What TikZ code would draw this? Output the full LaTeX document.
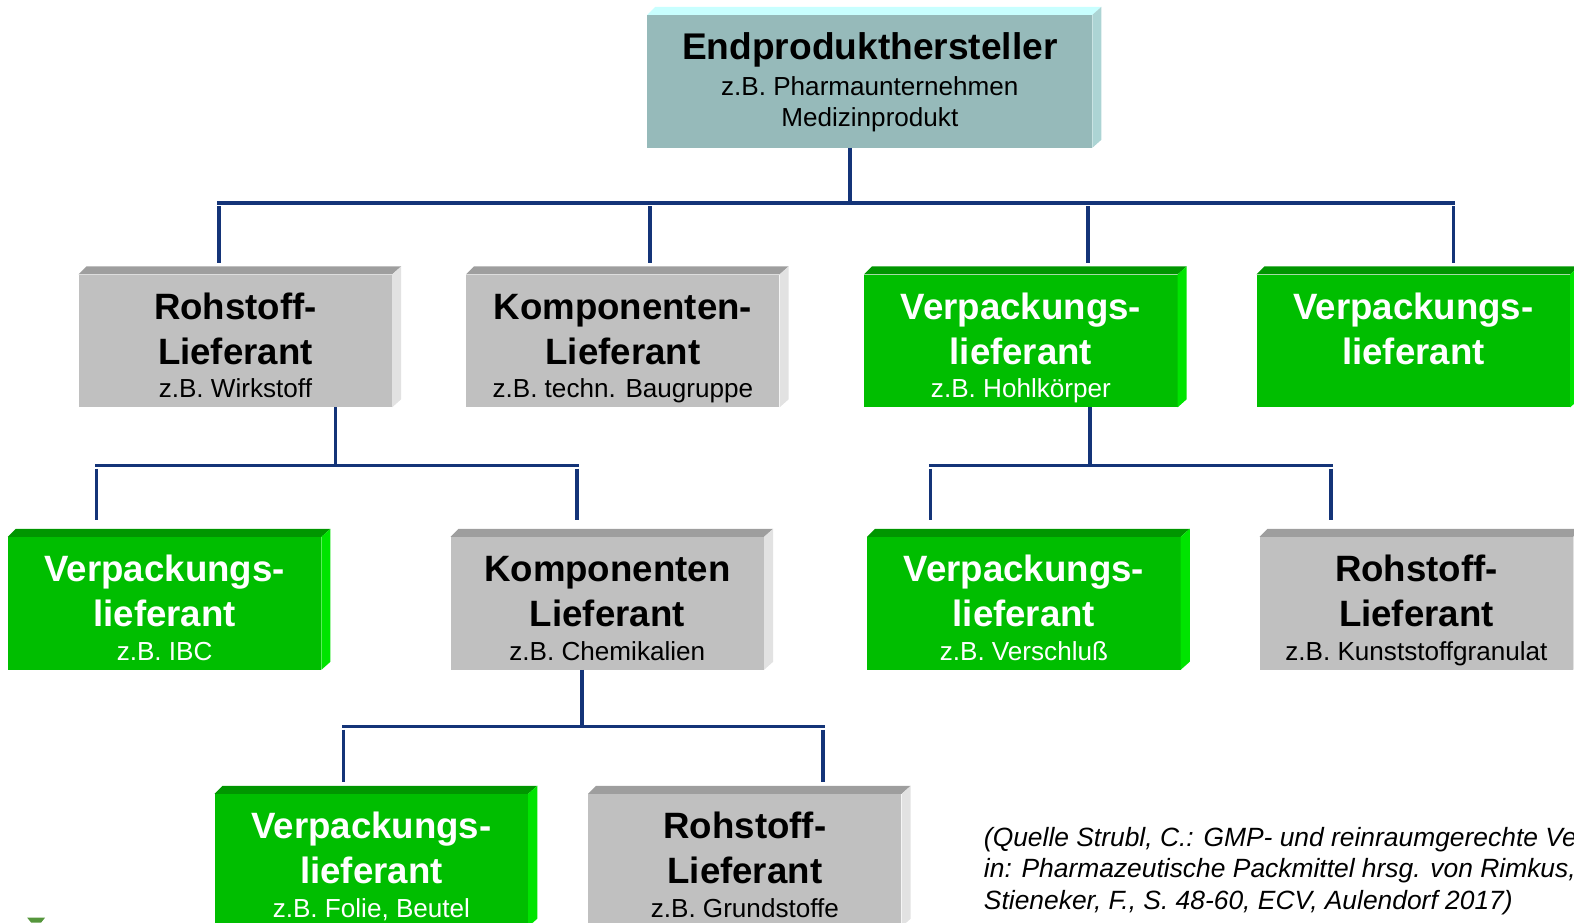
\documentclass[tikz,border=0pt]{standalone}
\usepackage{fontspec}
\setmainfont{Liberation Sans}
\usetikzlibrary{calc,positioning}
\definecolor{linie}{RGB}{20,52,120}
\definecolor{tuerkisvorn}{RGB}{150,186,186}
\definecolor{tuerkisdach}{RGB}{200,255,255}
\definecolor{tuerkisseite}{RGB}{172,212,212}
\definecolor{grauvorn}{RGB}{192,192,192}
\definecolor{graudach}{RGB}{158,158,158}
\definecolor{grauseite}{RGB}{226,226,226}
\definecolor{gruenvorn}{RGB}{0,190,0}
\definecolor{gruendach}{RGB}{0,150,0}
\definecolor{gruenseite}{RGB}{0,228,0}
\definecolor{fleck}{RGB}{85,150,60}

\begin{document}
\begin{tikzpicture}[x=1pt,y=-1pt,
  box/.style={minimum width=312pt,minimum height=132pt,inner sep=0pt},
  tuerkis/.style={box,minimum width=443pt,minimum height=132pt,fill=tuerkisvorn},
  tuerkis dach/.style={fill=tuerkisdach},tuerkis seite/.style={fill=tuerkisseite},
  grau/.style={box,fill=grauvorn},
  grau dach/.style={fill=graudach},grau seite/.style={fill=grauseite},grau schrift/.style={text=black},
  gruen/.style={box,fill=gruenvorn},
  gruen dach/.style={fill=gruendach},gruen seite/.style={fill=gruenseite},gruen schrift/.style={text=white},
  kopf/.style={anchor=base,inner sep=0pt,font=\fontsize{36.5}{40}\selectfont\bfseries},
  zusatz/.style={anchor=base,inner sep=0pt,font=\fontsize{26}{30}\selectfont},
  quelle/.style={anchor=base west,inner sep=0pt,font=\fontsize{26.3}{30}\selectfont\itshape},
  verbinder/.style={draw=linie,line width=3.5pt}]
\useasboundingbox (0,0) rectangle (1568,919);

% Endprodukthersteller
\node[tuerkis] (end) at (866.5,81) {};
\node[kopf,font=\fontsize{37}{40}\selectfont\bfseries] (end-a) at ($(end.north)+(0,44)$) {Endprodukthersteller};
\node[zusatz] (end-b) at ($(end.north)+(0,80)$) {z.B. Pharmaunternehmen};
\node[zusatz] (end-c) at ($(end.north)+(0,111)$) {Medizinprodukt};

% Lieferanten
\foreach \n/\s/\x/\y/\a/\b/\c in {
  roh1/grau/234.5/339.5/Rohstoff-/Lieferant/z.B. Wirkstoff,
  komp1/grau/620.5/339.5/Komponenten-/Lieferant/z.B. techn. Baugruppe,
  verp1/gruen/1017/339.5/Verpackungs-/lieferant/z.B. Hohlkörper,
  verp2/gruen/1408/339.5/Verpackungs-/lieferant/{},
  verp3/gruen/164/601/Verpackungs-/lieferant/z.B. IBC,
  komp2/grau/605/601/Komponenten/Lieferant/z.B. Chemikalien,
  verp4/gruen/1020/601/Verpackungs-/lieferant/z.B. Verschluß,
  roh2/grau/1411/601/Rohstoff-/Lieferant/z.B. Kunststoffgranulat,
  verp5/gruen/370/857/Verpackungs-/lieferant/{z.B. Folie, Beutel},
  roh3/grau/742/857/Rohstoff-/Lieferant/z.B. Grundstoffe}{
  \node[\s] (\n) at (\x,\y) {};
  \node[kopf,\s\space schrift] (\n-a) at ($(\n.north)+(0,44.5)$) {\a};
  \node[kopf,\s\space schrift] (\n-b) at ($(\n.north)+(0,89.5)$) {\b};
  \node[zusatz,\s\space schrift] (\n-c) at ($(\n.north)+(0,123)$) {\c};
}

% 3D-Kanten
\foreach \n/\s in {end/tuerkis,roh1/grau,komp1/grau,verp1/gruen,verp2/gruen,verp3/gruen,
  komp2/grau,verp4/gruen,roh2/grau,verp5/gruen,roh3/grau}{
  \fill[\s\space dach] (\n.north west) -- ++(8,-8) -- ($(\n.north east)+(9,-8)$) -- (\n.north east) -- cycle;
  \fill[\s\space seite] (\n.north east) -- ++(9,-8) -- ($(\n.south east)+(9,-8)$) -- (\n.south east) -- cycle;
}

% Ebene 1
\coordinate (s0) at ([xshift=-19.5pt]end.south);
\foreach \n/\d in {roh1/-16.5,komp1/27,verp1/67,verp2/40}
  \coordinate (a-\n) at ([xshift=\d pt,yshift=71pt]\n.north);
\draw[verbinder] (s0) -- (s0 |- a-roh1);
\draw[verbinder,line cap=rect] (a-roh1) -- (a-verp2);
\foreach \n in {roh1,komp1,verp1,verp2} \draw[verbinder] (a-\n) ++(0,3) -- ++(0,57);

% Ebene 2
\coordinate (s1) at ([xshift=99.5pt]roh1.south);
\coordinate (s2) at ([xshift=69pt]verp1.south);
\foreach \n/\d in {verp3/-68,komp2/-30,verp4/-93,roh2/-85}
  \coordinate (b-\n) at ([xshift=\d pt,yshift=71pt]\n.north);
\draw[verbinder] (s1) -- (s1 |- b-verp3);
\draw[verbinder] (s2) -- (s2 |- b-verp4);
\draw[verbinder,line cap=rect] (b-verp3) -- (b-komp2);
\draw[verbinder,line cap=rect] (b-verp4) -- (b-roh2);
\foreach \n in {verp3,komp2,verp4,roh2} \draw[verbinder] (b-\n) ++(0,3) -- ++(0,51);

% Ebene 3
\coordinate (s3) at ([xshift=-25pt]komp2.south);
\foreach \n/\d in {verp5/-28,roh3/78}
  \coordinate (c-\n) at ([xshift=\d pt,yshift=67pt]\n.north);
\draw[verbinder] (s3) -- (s3 |- c-verp5);
\draw[verbinder,line cap=rect] (c-verp5) -- (c-roh3);
\foreach \n in {verp5,roh3} \draw[verbinder] (c-\n) ++(0,3) -- ++(0,52);

% Quelle
\foreach \i/\t in {1/{(Quelle Strubl, C.: GMP- und reinraumgerechte Ve},
  2/{in: Pharmazeutische Packmittel hrsg. von Rimkus,},
  3/{Stieneker, F., S. 48-60, ECV, Aulendorf 2017)}}
  \node[quelle] (q\i) at (980,811.5+31.5*\i) {\t};

\fill[fleck] (27,914) -- (45,914) -- (41,919) -- (31,919) -- cycle;
\end{tikzpicture}
\end{document}
